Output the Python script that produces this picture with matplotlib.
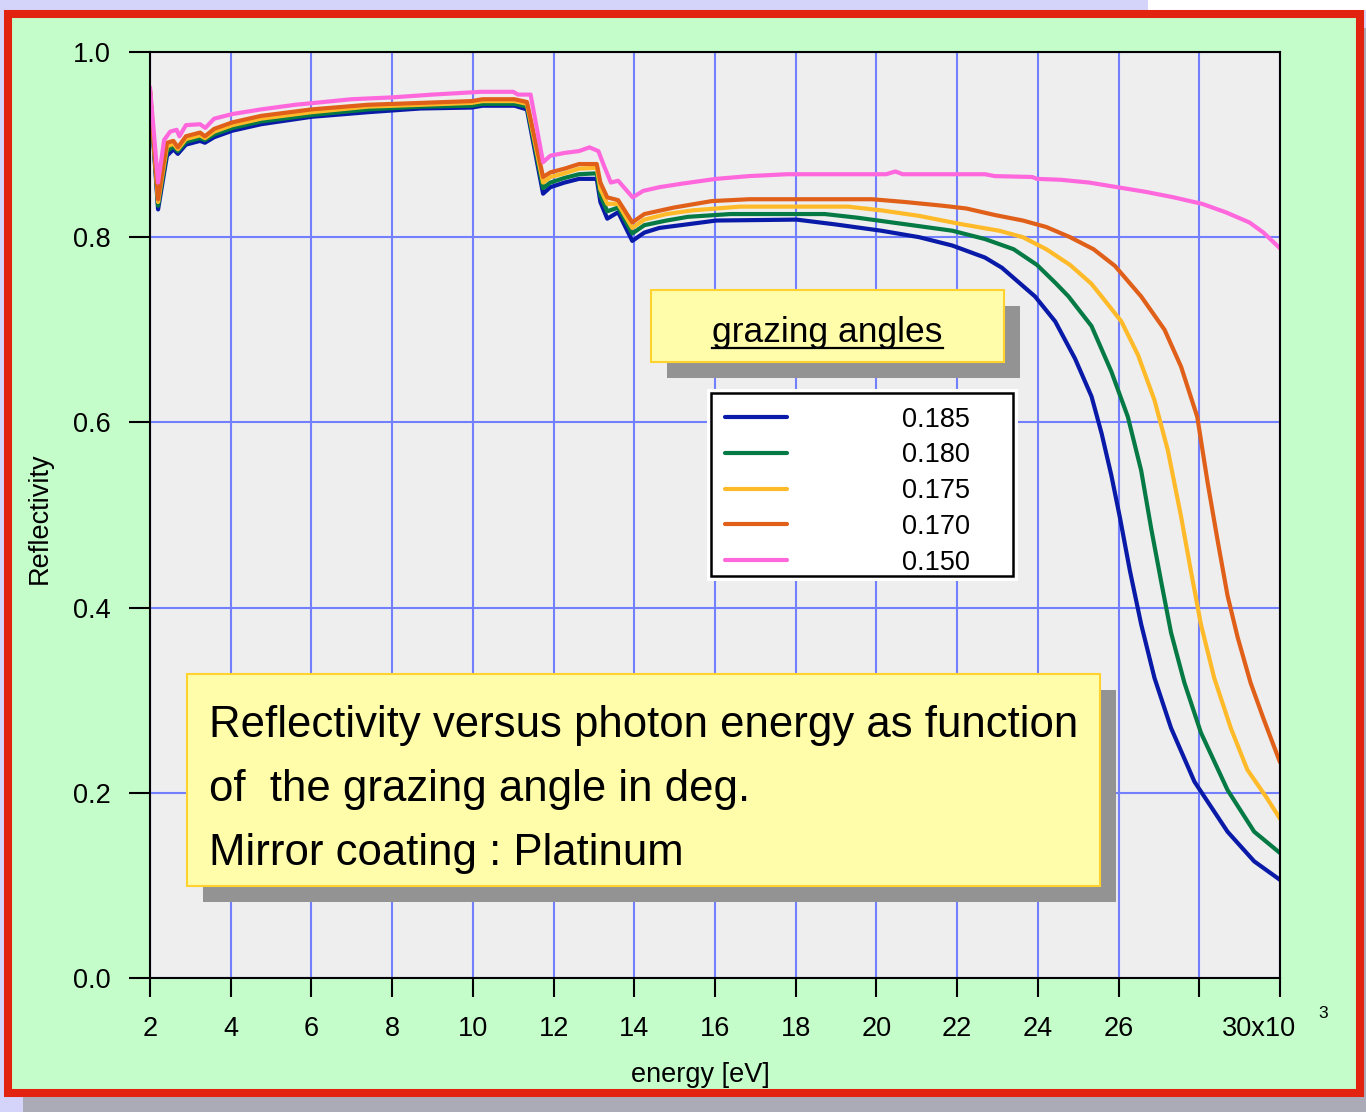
import matplotlib
matplotlib.use("Agg")
import matplotlib.pyplot as plt
from matplotlib.patches import Rectangle
from matplotlib.lines import Line2D

plt.rcParams['font.family'] = ['Liberation Sans', 'DejaVu Sans']

# ---- data (energy in keV, reflectivity) ----
angles = ['0.185', '0.180', '0.175', '0.170', '0.150']
colors = ['#0A1AA8', '#067A45', '#FFBA2A', '#E0601A', '#FF68DD']

# shared sampling for the low-energy part of the four close curves
e_low = [2.0, 2.2, 2.42, 2.58, 2.69, 2.89, 3.24, 3.36, 3.59, 4.04, 4.75, 6.0, 7.4, 8.7,
         9.97, 10.24, 11.03, 11.34, 11.74, 11.92, 12.27, 12.63, 13.07, 13.16, 13.33,
         13.6, 13.95, 14.25]

r185_low = [0.955, 0.830, 0.888, 0.895, 0.890, 0.900, 0.904, 0.902, 0.908, 0.915, 0.922,
            0.930, 0.935, 0.939, 0.940, 0.942, 0.942, 0.938, 0.847, 0.854, 0.859, 0.863,
            0.863, 0.838, 0.820, 0.827, 0.796, 0.805]
e185_high = [14.62, 15.33, 16.03, 18.02, 18.95, 20.12, 21.06, 21.88, 22.69, 23.11, 23.93,
             24.43, 24.92, 25.33, 25.58, 25.82, 26.03, 26.28, 26.56, 26.89, 27.30, 27.88,
             28.70, 29.36, 30.0]
r185_high = [0.810, 0.814, 0.818, 0.819, 0.814, 0.807, 0.800, 0.791, 0.778, 0.767, 0.736,
             0.709, 0.669, 0.628, 0.588, 0.543, 0.498, 0.440, 0.382, 0.324, 0.270, 0.212,
             0.158, 0.126, 0.106]

r180_low = [0.957, 0.834, 0.893, 0.898, 0.893, 0.903, 0.907, 0.905, 0.911, 0.918, 0.925,
            0.932, 0.938, 0.941, 0.942, 0.944, 0.944, 0.941, 0.853, 0.859, 0.864, 0.868,
            0.869, 0.845, 0.828, 0.832, 0.804, 0.813]
e180_high = [14.8, 15.33, 16.38, 18.72, 19.54, 20.71, 21.88, 22.69, 23.40, 23.98, 24.45,
             24.76, 25.33, 25.82, 26.23, 26.56, 26.81, 27.06, 27.30, 27.63, 28.04, 28.70,
             29.36, 30.0]
r180_high = [0.818, 0.822, 0.825, 0.825, 0.821, 0.814, 0.807, 0.798, 0.787, 0.770, 0.750,
             0.736, 0.704, 0.655, 0.606, 0.548, 0.485, 0.427, 0.373, 0.319, 0.265, 0.203,
             0.158, 0.135]

r175_low = [0.958, 0.838, 0.898, 0.901, 0.895, 0.906, 0.910, 0.907, 0.914, 0.921, 0.928,
            0.935, 0.941, 0.943, 0.945, 0.947, 0.947, 0.944, 0.859, 0.865, 0.869, 0.874,
            0.875, 0.852, 0.836, 0.836, 0.810, 0.819]
e175_high = [14.8, 15.45, 16.62, 19.30, 20.12, 21.06, 22.11, 23.04, 23.63, 24.21, 24.80,
             25.32, 25.58, 26.07, 26.48, 26.89, 27.22, 27.55, 27.79, 28.04, 28.37, 28.78,
             29.19, 29.68, 30.0]
r175_high = [0.825, 0.829, 0.833, 0.833, 0.829, 0.823, 0.814, 0.807, 0.800, 0.787, 0.770,
             0.750, 0.736, 0.709, 0.673, 0.624, 0.570, 0.498, 0.440, 0.382, 0.324, 0.270,
             0.225, 0.194, 0.172]

r170_low = [0.959, 0.841, 0.902, 0.904, 0.897, 0.909, 0.913, 0.909, 0.917, 0.924, 0.931,
            0.938, 0.943, 0.945, 0.947, 0.949, 0.949, 0.946, 0.865, 0.870, 0.874, 0.879,
            0.879, 0.859, 0.843, 0.840, 0.816, 0.825]
e170_high = [14.98, 15.92, 16.85, 18.02, 19.89, 20.71, 21.64, 22.23, 22.93, 23.63, 24.21,
             24.80, 25.38, 25.91, 26.56, 27.14, 27.55, 27.95, 28.21, 28.46, 28.70, 28.95,
             29.27, 29.60, 30.0]
r170_high = [0.832, 0.839, 0.841, 0.841, 0.841, 0.838, 0.834, 0.831, 0.824, 0.818, 0.811,
             0.800, 0.787, 0.769, 0.736, 0.700, 0.660, 0.606, 0.534, 0.471, 0.413, 0.368,
             0.319, 0.279, 0.233]

e150 = [2.0, 2.2, 2.35, 2.5, 2.66, 2.73, 2.89, 3.24, 3.37, 3.59, 4.04, 4.75, 5.6, 7.0, 8.0,
        9.0, 10.2, 11.0, 11.12, 11.43, 11.74, 11.92, 12.27, 12.63, 12.89, 13.11, 13.25,
        13.42, 13.6, 13.96, 14.22, 14.62, 15.21, 16.03, 16.85, 17.79, 18.95, 20.24, 20.47,
        20.65, 22.69, 22.93, 23.86, 23.98, 24.57, 25.27, 25.97, 26.67, 27.37, 28.07, 28.65,
        29.24, 29.59, 30.0]
r150 = [0.962, 0.859, 0.905, 0.914, 0.916, 0.909, 0.921, 0.922, 0.918, 0.928, 0.933, 0.938,
        0.943, 0.949, 0.951, 0.954, 0.957, 0.957, 0.954, 0.954, 0.881, 0.888, 0.891, 0.893,
        0.897, 0.893, 0.877, 0.859, 0.861, 0.843, 0.850, 0.854, 0.858, 0.863, 0.866, 0.868,
        0.868, 0.868, 0.871, 0.868, 0.868, 0.866, 0.865, 0.863, 0.862, 0.859, 0.854, 0.849,
        0.843, 0.836, 0.827, 0.816, 0.805, 0.788]

xticks = [2, 4, 6, 8, 10, 12, 14, 16, 18, 20, 22, 24, 26, 28, 30]
xtick_labels = ['2', '4', '6', '8', '10', '12', '14', '16', '18', '20', '22', '24', '26', '', '']
yticks = [0.0, 0.2, 0.4, 0.6, 0.8, 1.0]

note_lines = ['Reflectivity versus photon energy as function',
              'of  the grazing angle in deg.',
              'Mirror coating : Platinum']

series = [
    (e_low + e185_high, r185_low + r185_high),
    (e_low + e180_high, r180_low + r180_high),
    (e_low + e175_high, r175_low + r175_high),
    (e_low + e170_high, r170_low + r170_high),
    (e150, r150),
]

W, H = 1366, 1112
FS = 19.5
fig = plt.figure(figsize=(W / 100, H / 100), dpi=100, facecolor='#D4D4FA')


def fx(x):
    return x / W


def fy(y):
    return 1 - y / H


def box(x0, y0, x1, y1, **kw):
    r = Rectangle((fx(x0), fy(y1)), (x1 - x0) / W, (y1 - y0) / H,
                  transform=fig.transFigure, **kw)
    fig.add_artist(r)
    return r


# page background pieces
box(1148, 0, 1366, 10, fc='white', ec='none', zorder=-5)
box(23, 1097, 1366, 1112, fc='#ABABB8', ec='none', zorder=-5)
box(1364, 28, 1366, 1112, fc='#ABABB8', ec='none', zorder=-5)
box(7.5, 13.5, 1359.5, 1093, fc='#C4FCCA', ec='#E2230F', lw=5.8, zorder=-4)

ax = fig.add_axes([fx(150), fy(978), 1130 / W, 926 / H])
ax.set_facecolor('#EEEEEE')

lines = []
for (x, y), c, lab in zip(series, colors, angles):
    l, = ax.plot(x, y, color=c, lw=3.0, label=lab, solid_capstyle='round')
    lines.append(l)

ax.set_xlim(2, 30)
ax.set_ylim(0, 1.0)
ax.set_xticks(xticks)
ax.set_xticklabels(xtick_labels)
ax.set_yticks(yticks)
ax.set_yticklabels(['%.1f' % v for v in yticks])
ax.grid(True, color='#7280FF', lw=1.5)
ax.set_axisbelow(True)
for s in ax.spines.values():
    s.set_color('black')
    s.set_linewidth(1.5)
ax.tick_params(axis='both', direction='out', width=1.5, labelsize=FS, colors='black')
ax.tick_params(axis='y', length=15, pad=13)
ax.tick_params(axis='x', length=14, pad=13)

ax.set_xlabel('energy [eV]', fontsize=FS, va='baseline')
ax.xaxis.set_label_coords((700.5 - 150) / 1130, (978 - 1081.7) / 926)
ax.set_ylabel('Reflectivity', fontsize=FS)
ax.yaxis.set_label_coords((52.5 - 150) / 1130, (978 - 518.3) / 926)

fig.text(fx(1296), fy(1036), '30x10', ha='right', va='baseline', fontsize=FS)
fig.text(fx(1318), fy(1018), '3', ha='left', va='baseline', fontsize=12.5)

# "grazing angles" caption box
box(667, 306, 1020, 378, fc='#939393', ec='none', zorder=2)
box(651, 290, 1004, 362, fc='#FFFDAA', ec='#FFD22E', lw=1.5, zorder=3)
cap = fig.text(fx(827.5), fy(342), 'grazing angles', ha='center', va='baseline',
               fontsize=25.5, zorder=4)

# legend
box(707, 389, 1018, 581, fc='white', ec='none', zorder=3)
box(711, 393, 1013, 576, fc='white', ec='black', lw=1.8, zorder=4)
fig.legend(handles=lines, labels=angles, loc='upper left',
           bbox_to_anchor=(fx(711), fy(393)), bbox_transform=fig.transFigure,
           frameon=False, borderaxespad=0, borderpad=0.5, fontsize=FS,
           handlelength=2.3, handletextpad=4.25, labelspacing=0.36)

# description box
box(203, 690, 1116, 902, fc='#939393', ec='none', zorder=2)
box(187, 674, 1100, 886, fc='#FFFDAA', ec='#FFD22E', lw=1.5, zorder=3)
for i, txt in enumerate(note_lines):
    fig.text(fx(209), fy(737 + 64 * i), txt, ha='left', va='baseline',
             fontsize=31.5, zorder=4)

# underline the caption
fig.canvas.draw()
bb = cap.get_window_extent()
fig.add_artist(Line2D([bb.x0 / W, bb.x1 / W], [fy(348), fy(348)],
                      transform=fig.transFigure, color='black', lw=1.6, zorder=5))

fig.savefig('out.png', dpi=100, facecolor=fig.get_facecolor())
